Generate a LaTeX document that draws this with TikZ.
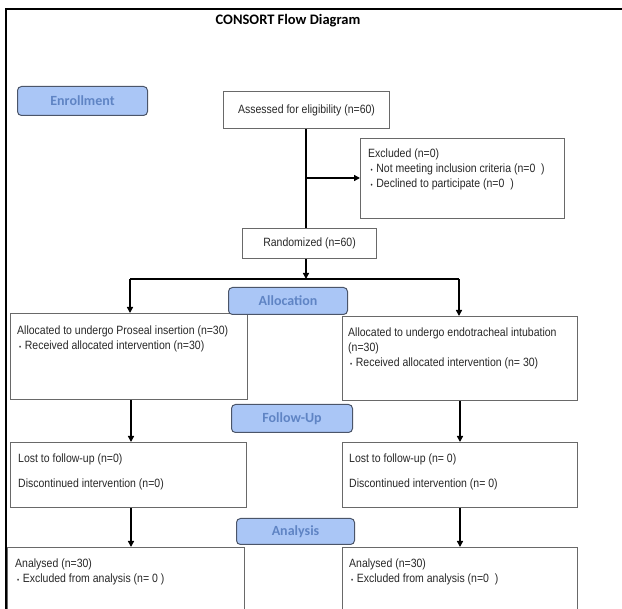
\documentclass[tikz,border=0pt]{standalone}
\usepackage{fontspec}
\setmainfont[FakeStretch=0.875]{Liberation Sans}
\newfontfamily\calib{Carlito}
\usetikzlibrary{arrows.meta}
\definecolor{phasefill}{RGB}{170,198,246}
\definecolor{phasedraw}{RGB}{75,85,105}
\definecolor{phasetext}{RGB}{95,132,196}
\definecolor{boxdraw}{RGB}{105,105,105}
\definecolor{txt}{RGB}{40,40,40}
\newcommand\bul{{\fontsize{7}{7}\selectfont\textbullet}\hspace{3.5pt}}
\tikzset{
 box/.style={draw=boxdraw, line width=1.1pt, rectangle, anchor=north west, inner sep=0pt,
   font=\fontsize{12}{15}\selectfont, text=txt},
 phase/.style={draw=phasedraw, fill=phasefill, line width=1pt, rounded corners=4pt,
   anchor=north west, inner sep=0pt, font=\calib\bfseries\fontsize{14}{16}\selectfont, text=phasetext},
 lbl/.style={anchor=north west, inner sep=0pt, align=left, font=\fontsize{12}{15}\selectfont, text=txt, yshift=10.5pt},
 conn/.style={draw=black, line width=1.4pt},
 arr/.style={conn, -{Triangle[length=6pt,width=6pt]}},
}
\begin{document}
\begin{tikzpicture}[x=1pt,y=-1pt]
\useasboundingbox (0,0) rectangle (622,609);
\clip (0,0) rectangle (622,609);
\fill[white] (0,0) rectangle (622,609);
% frame
\draw[line width=2pt] (6,615) -- (6,9) -- (630,9);
% title
\node[anchor=base, inner sep=0pt, font=\calib\bfseries\fontsize{14.5}{16}\selectfont] (title) at (288,25) {CONSORT Flow Diagram};
% boxes
\node[box, minimum width=166pt, minimum height=37pt] (assess) at (223,91) {Assessed for eligibility (n=60)};
\node[box, minimum width=204pt, minimum height=80pt] (excl) at (360,138) {};
\node[box, minimum width=134pt, minimum height=30pt] (rand) at (242,228) {Randomized (n=60)};
\node[box, minimum width=237pt, minimum height=86pt] (allocL) at (10,313) {};
\node[box, minimum width=235pt, minimum height=84pt] (allocR) at (342,316) {};
\node[box, minimum width=236pt, minimum height=65pt] (lostL) at (10,442) {};
\node[box, minimum width=235pt, minimum height=65pt] (lostR) at (342,442) {};
\node[box, minimum width=237pt, minimum height=83pt] (anaL) at (7,547) {};
\node[box, minimum width=235pt, minimum height=83pt] (anaR) at (342,547) {};
% texts (coordinate = first baseline)
\node[lbl] (exclT) at (368,157) {\strut Excluded (n=0)\\\hspace*{2.5pt}\bul Not meeting inclusion criteria (n=0\ \ )\\\hspace*{2.5pt}\bul Declined to participate (n=0\ \ )};
\node[lbl] (allocLT) at (17,334) {\strut Allocated to undergo Proseal insertion (n=30)\\\hspace*{2pt}\bul Received allocated intervention (n=30)};
\node[lbl] (allocRT) at (348,336) {\strut Allocated to undergo endotracheal intubation\\(n=30)\\\hspace*{2pt}\bul Received allocated intervention (n= 30)};
\node[lbl] (lostLT) at (18,462) {\strut Lost to follow-up (n=0)\\[10pt]Discontinued intervention (n=0)};
\node[lbl] (lostRT) at (349,462) {\strut Lost to follow-up (n= 0)\\[10pt]Discontinued intervention (n= 0)};
\node[lbl] (anaLT) at (15,567) {\strut Analysed (n=30)\\\hspace*{2pt}\bul Excluded from analysis (n= 0 )};
\node[lbl] (anaRT) at (349,567) {\strut Analysed (n=30)\\\hspace*{2pt}\bul Excluded from analysis (n=0\ \ )};
% connectors
\coordinate (j1) at (306,178);
\coordinate (j2) at (306,279);
\coordinate (jl) at (130,279);
\coordinate (jr) at (459,279);
\coordinate (kl) at (131,0);
\coordinate (kr) at (460,0);
\draw[conn] (assess.south -| j1) -- (rand.north -| j1);
\draw[arr] (j1) -- (excl.west |- j1);
\draw[arr] (rand.south -| j2) -- (j2);
\draw[conn] (jl) -- (jr);
\draw[arr] (jl) -- (allocL.north -| jl);
\draw[arr] (jr) -- (allocR.north -| jr);
\draw[arr] (allocL.south -| kl) -- (lostL.north -| kl);
\draw[arr] (allocR.south -| kr) -- (lostR.north -| kr);
\draw[arr] (lostL.south -| kl) -- (anaL.north -| kl);
\draw[arr] (lostR.south -| kr) -- (anaR.north -| kr);
% phases
\node[phase, minimum width=130pt, minimum height=29pt] (enroll) at (17,86) {Enrollment};
\node[phase, minimum width=119pt, minimum height=27pt] (allocP) at (228,287) {Allocation};
\node[phase, minimum width=121pt, minimum height=28pt] (follow) at (231,404) {Follow-Up};
\node[phase, minimum width=118pt, minimum height=26pt] (analysis) at (236,518) {Analysis};
\end{tikzpicture}
\end{document}
